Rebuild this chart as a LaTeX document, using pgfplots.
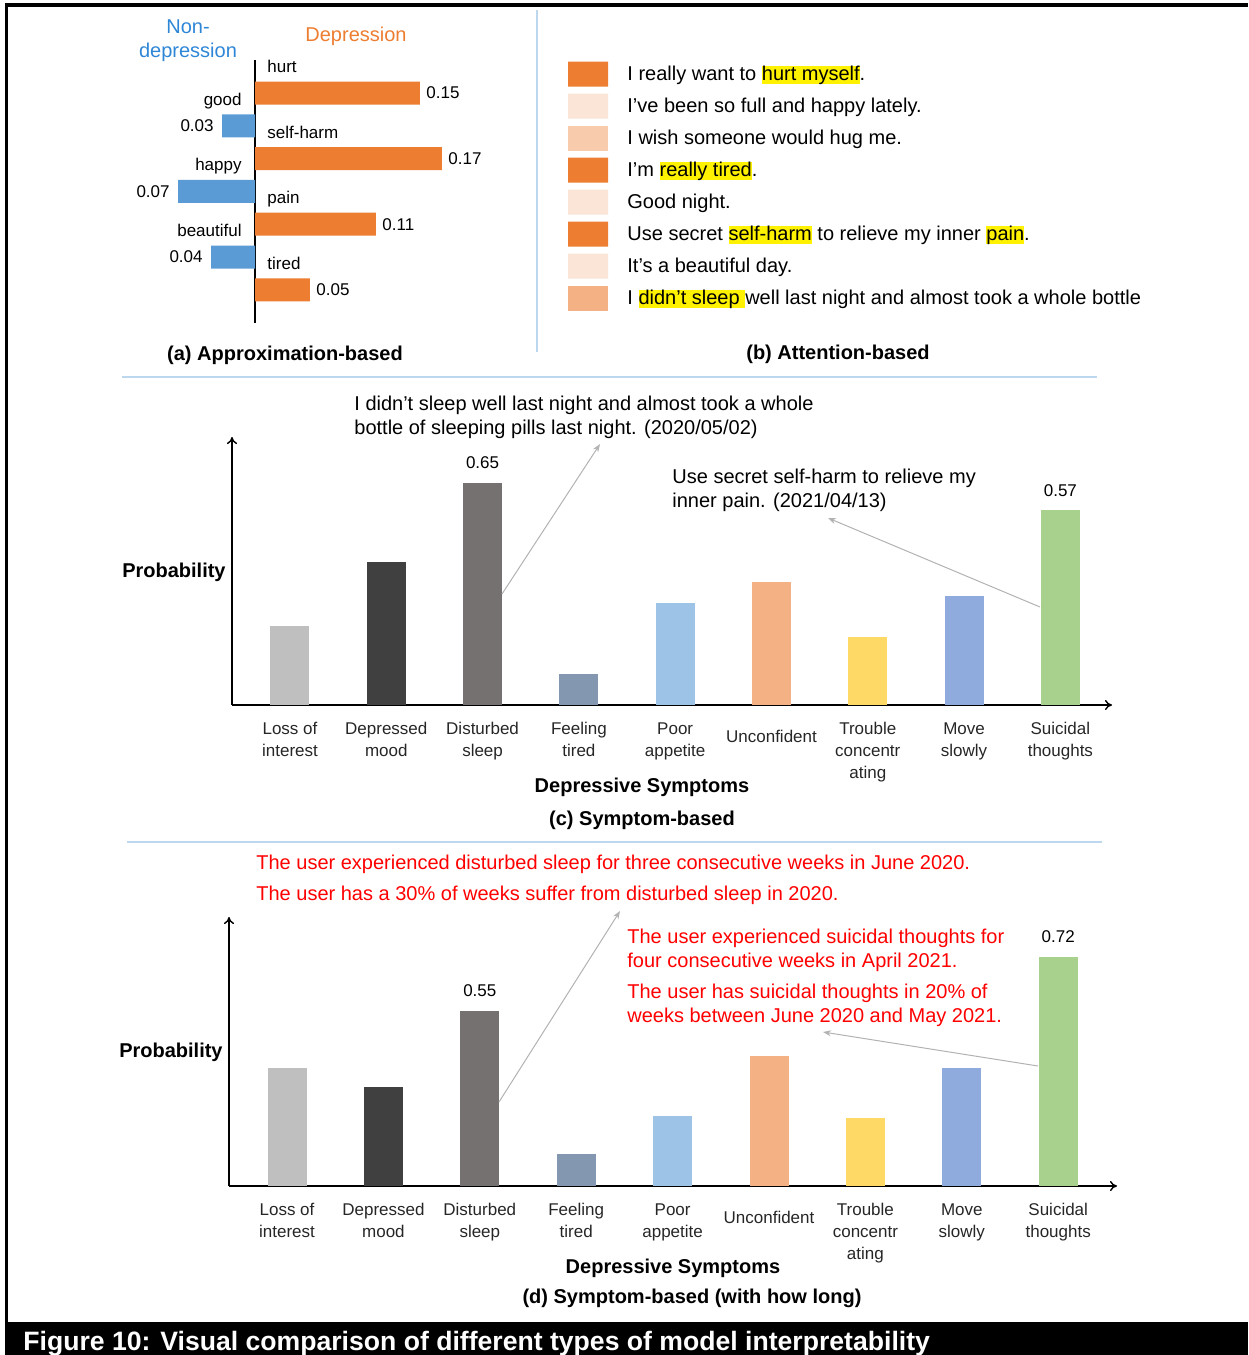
\documentclass[border=0pt]{standalone}
\usepackage{fontspec}
\setmainfont{Liberation Sans}
\usepackage{pgfplots}
\pgfplotsset{compat=1.18}
\usetikzlibrary{arrows.meta}

\definecolor{orng}{HTML}{ED7D31}
\definecolor{blu}{HTML}{5B9BD5}
\definecolor{blutxt}{HTML}{2E86D6}
\definecolor{att1}{HTML}{ED7D31}
\definecolor{att2}{HTML}{F4B183}
\definecolor{att3}{HTML}{F8CBAD}
\definecolor{att4}{HTML}{FBE5D6}
\definecolor{sepline}{HTML}{BDD7EE}
\definecolor{cLoss}{HTML}{BFBFBF}
\definecolor{cMood}{HTML}{404040}
\definecolor{cSleep}{HTML}{767171}
\definecolor{cTired}{HTML}{8497B0}
\definecolor{cApp}{HTML}{9DC3E6}
\definecolor{cUnc}{HTML}{F4B183}
\definecolor{cConc}{HTML}{FFD966}
\definecolor{cMove}{HTML}{8FAADC}
\definecolor{cSuic}{HTML}{A9D18E}

\newcommand{\fs}{\fontsize{10}{12}\selectfont}
\newcommand{\fss}{\fontsize{8.5}{11}\selectfont}
\newcommand{\hl}[1]{{\setlength{\fboxsep}{0pt}\colorbox{yellow}{\vphantom{Ay}#1}}}

\pgfplotsset{
  sbar/.style={fill=#1, draw=none, bar shift=0pt},
  symptoms/.style={
    scale only axis, anchor=south west,
    axis lines=left,
    axis line style={line width=0.7pt, -{To[length=3.5pt,width=5pt]}},
    ybar, bar width=19.5pt, ymin=0,
    xtick={0,...,8}, ytick=\empty, major tick length=0pt,
    xticklabels={{Loss of\\interest},{Depressed\\mood},{Disturbed\\sleep},
      {Feeling\\tired},{Poor\\appetite},{\raisebox{-4pt}[\height]{Unconfident}},
      {Trouble\\concentr\\ating},{Move\\slowly},{Suicidal\\thoughts}},
    xticklabel style={align=center, font=\fss, inner sep=0pt, yshift=-8.5pt, text=black!85},
    every node near coord/.append style={font=\fss, yshift=3.5pt},
    /pgf/number format/assume math mode=true,
    enlargelimits=false, clip=false,
  },
}

\begin{document}
% 1 px of the 1248x1355 picture = 0.5pt; y runs downward
\begin{tikzpicture}[x=0.5pt,y=-0.5pt]
% frame and caption bar
\fill[black] (5,3) rectangle (1248,7);
\fill[black] (5,3) rectangle (8,1355);
\fill[black] (5,1322) rectangle (1248,1355);
\node[anchor=base west, inner sep=0pt, text=white, font=\fontsize{13.3}{16}\selectfont\bfseries]
  at (23,1350) {Figure 10: Visual comparison of different types of model interpretability};

% separators
\draw[sepline, line width=0.7pt] (537,10) -- (537,352);
\draw[sepline, line width=0.7pt] (122,377) -- (1097,377);
\draw[sepline, line width=0.7pt] (127,842) -- (1102,842);

% ---------- (a) approximation-based ----------
\node[font=\fs, text=blutxt, align=center, inner sep=0pt] at (188,41) {Non-\\depression};
\node[font=\fs, text=orng, inner sep=0pt] at (356,36) {Depression};
\begin{axis}[at={(72.5pt,-161.3pt)}, anchor=south west, scale only axis,
    width=165pt, height=131.2pt,
    xmin=-0.1, xmax=0.2, ymin=0, ymax=8, y dir=reverse,
    axis x line=none, axis y line*=middle,
    axis line style={line width=0.8pt},
    xtick=\empty, ytick=\empty,
    xbar, bar width=11.5pt,
    point meta=explicit symbolic,
    enlargelimits=false, clip=false]
  \addplot[sbar=orng, nodes near coords,
    every node near coord/.append style={anchor=west, font=\fss, inner sep=3pt}]
    coordinates {(0.15,1)[0.15] (0.17,3)[0.17] (0.11,5)[0.11] (0.05,7)[0.05]};
  \addplot[sbar=blu, nodes near coords,
    every node near coord/.append style={anchor=east, font=\fss, inner sep=4pt}]
    coordinates {(-0.03,2)[0.03] (-0.07,4)[0.07] (-0.04,6)[0.04]};
  \begin{scope}[every node/.style={font=\fss, inner sep=0pt}]
    \node[anchor=base west, xshift=6pt, yshift=-2.5pt] at (axis cs:0,0.22) {hurt};
    \node[anchor=base west, xshift=6pt, yshift=-2.5pt] at (axis cs:0,2.22) {self-harm};
    \node[anchor=base west, xshift=6pt, yshift=-2.5pt] at (axis cs:0,4.22) {pain};
    \node[anchor=base west, xshift=6pt, yshift=-2.5pt] at (axis cs:0,6.22) {tired};
    \node[anchor=base east, xshift=-6.5pt, yshift=-2.5pt] at (axis cs:0,1.22) {good};
    \node[anchor=base east, xshift=-6.5pt, yshift=-2.5pt] at (axis cs:0,3.22) {happy};
    \node[anchor=base east, xshift=-6.5pt, yshift=-2.5pt] at (axis cs:0,5.22) {beautiful};
  \end{scope}
\end{axis}
\node[font=\fs\bfseries] at (285,355) {(a) Approximation-based};

% ---------- (b) attention-based ----------
\begin{axis}[at={(284pt,-157pt)}, anchor=south west, scale only axis,
    width=20pt, height=128pt,
    xmin=0, xmax=1, ymin=0.5, ymax=8.5, y dir=reverse,
    hide axis, xbar, bar width=12.5pt,
    enlargelimits=false, clip=false]
  \addplot[sbar=att1] coordinates {(1,1) (1,4) (1,6)};
  \addplot[sbar=att4] coordinates {(1,2) (1,5) (1,7)};
  \addplot[sbar=att3] coordinates {(1,3)};
  \addplot[sbar=att2] coordinates {(1,8)};
  \begin{scope}[every node/.style={font=\fs, inner sep=0pt, anchor=base west, yshift=-3pt}]
    \node at (axis cs:1.475,1) {I really want to \hl{hurt myself}.};
    \node at (axis cs:1.475,2) {I’ve been so full and happy lately.};
    \node at (axis cs:1.475,3) {I wish someone would hug me.};
    \node at (axis cs:1.475,4) {I’m \hl{really tired}.};
    \node at (axis cs:1.475,5) {Good night.};
    \node at (axis cs:1.475,6) {Use secret \hl{self-harm} to relieve my inner \hl{pain}.};
    \node at (axis cs:1.475,7) {It’s a beautiful day.};
    \node at (axis cs:1.475,8) {I \hl{didn’t sleep }well last night and almost took a whole bottle};
  \end{scope}
\end{axis}
\node[font=\fs\bfseries] at (838,354) {(b) Attention-based};

% ---------- (c) symptom-based ----------
\begin{axis}[symptoms, at={(116pt,-352.5pt)}, width=440pt, height=134pt,
    xmin=-0.602, xmax=8.536, ymax=0.785]
  \addplot[sbar=cLoss]  coordinates {(0,0.23)};
  \addplot[sbar=cMood]  coordinates {(1,0.42)};
  \addplot[sbar=cSleep, nodes near coords] coordinates {(2,0.65)};
  \addplot[sbar=cTired] coordinates {(3,0.09)};
  \addplot[sbar=cApp]   coordinates {(4,0.30)};
  \addplot[sbar=cUnc]   coordinates {(5,0.36)};
  \addplot[sbar=cConc]  coordinates {(6,0.20)};
  \addplot[sbar=cMove]  coordinates {(7,0.32)};
  \addplot[sbar=cSuic, nodes near coords] coordinates {(8,0.57)};
\end{axis}
\node[anchor=base east, font=\fs\bfseries, inner sep=0pt] at (226,577) {Probability};
% two-line nodes: the base anchor sits on the last line
\node[anchor=base west, font=\fs, inner sep=0pt, align=left] at (354,434)
  {I didn’t sleep well last night and almost took a whole\\bottle of sleeping pills last night. (2020/05/02)};
\node[anchor=base west, font=\fs, inner sep=0pt, align=left] at (672,507)
  {Use secret self-harm to relieve my\\inner pain. (2021/04/13)};
\draw[black!30, line width=0.5pt, -{Stealth[length=4pt,width=3pt]}] (502,594) -- (600,444);
\draw[black!30, line width=0.5pt, -{Stealth[length=4pt,width=3pt]}] (1040,607) -- (828,518);
\node[font=\fs\bfseries] at (642,787) {Depressive Symptoms};
\node[font=\fs\bfseries] at (642,820) {(c) Symptom-based};

% ---------- (d) symptom-based with duration ----------
\begin{axis}[symptoms, at={(114.5pt,-593pt)}, width=444pt, height=134.5pt,
    xmin=-0.602, xmax=8.61, ymax=0.846]
  \addplot[sbar=cLoss]  coordinates {(0,0.37)};
  \addplot[sbar=cMood]  coordinates {(1,0.31)};
  \addplot[sbar=cSleep, nodes near coords] coordinates {(2,0.55)};
  \addplot[sbar=cTired] coordinates {(3,0.10)};
  \addplot[sbar=cApp]   coordinates {(4,0.22)};
  \addplot[sbar=cUnc]   coordinates {(5,0.41)};
  \addplot[sbar=cConc]  coordinates {(6,0.215)};
  \addplot[sbar=cMove]  coordinates {(7,0.37)};
  \addplot[sbar=cSuic, nodes near coords] coordinates {(8,0.72)};
\end{axis}
\node[anchor=base east, font=\fs\bfseries, inner sep=0pt] at (223,1057) {Probability};
\begin{scope}[every node/.style={anchor=base west, font=\fs, text=red, inner sep=0pt, align=left}]
  \node at (256,869) {The user experienced disturbed sleep for three consecutive weeks in June 2020.};
  \node at (256,900) {The user has a 30\% of weeks suffer from disturbed sleep in 2020.};
  \node at (627,967) {The user experienced suicidal thoughts for\\four consecutive weeks in April 2021.};
  \node at (627,1022) {The user has suicidal thoughts in 20\% of\\weeks between June 2020 and May 2021.};
\end{scope}
\draw[black!30, line width=0.5pt, -{Stealth[length=4pt,width=3pt]}] (499,1102) -- (620,911);
\draw[black!30, line width=0.5pt, -{Stealth[length=4pt,width=3pt]}] (1038,1066) -- (823,1032);
\node[font=\fs\bfseries] at (673,1268) {Depressive Symptoms};
\node[font=\fs\bfseries] at (692,1298) {(d) Symptom-based (with how long)};

\pgfresetboundingbox
\path[use as bounding box] (0,0) rectangle (1248,1355);
\end{tikzpicture}
\end{document}
